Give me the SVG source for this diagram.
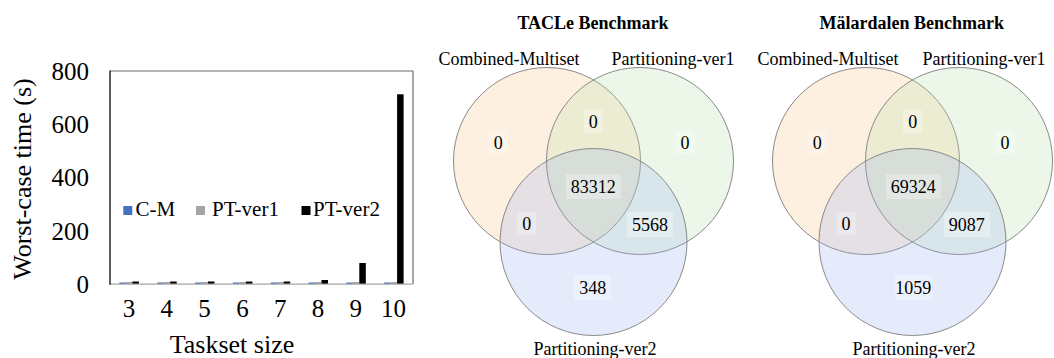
<svg xmlns="http://www.w3.org/2000/svg" width="1054" height="358" viewBox="0 0 1054 358">
  <style>
    .serif { font-family: "Liberation Serif", "Times New Roman", serif; fill: #000; }
    .tick { font-size: 25px; }
    .axis-title { font-size: 26px; }
    .legend { font-size: 21px; }
    .venn-title { font-size: 18px; font-weight: bold; text-anchor: middle; }
    .set-label { font-size: 18px; text-anchor: middle; }
    .count { font-size: 18px; text-anchor: middle; }
    .count-bg { fill: #ffffff; fill-opacity: 0.3; }
    .cm { fill: #4472C4; }
    .pt1 { fill: #A5A5A5; }
    .pt2 { fill: #000000; }
    .set { stroke: #8a8a8a; stroke-width: 1; fill-opacity: 0.25; }
    .set-a { fill: #F7C383; }
    .set-b { fill: #B7DFA7; }
    .set-c { fill: #9BAFEF; }
  </style>
  <defs>
    <!-- one three-set Venn layout, reused for both benchmarks -->
    <g id="venn-circles">
      <circle class="set set-a" cx="547" cy="161" r="93.5"/>
      <circle class="set set-b" cx="640" cy="161" r="93.5"/>
      <circle class="set set-c" cx="593.5" cy="242" r="93.5"/>
    </g>
  </defs>
  <rect width="1054" height="358" fill="#ffffff"/>

  <!-- Bar chart: worst-case time per taskset size -->
  <g id="bar-chart">
    <g id="plot-frame">
      <line x1="110" y1="71" x2="413" y2="71" stroke="#6b6b6b" stroke-width="1.2"/>
      <line x1="413" y1="71" x2="413" y2="284" stroke="#6b6b6b" stroke-width="1.2"/>
    </g>
    <g id="bars">
      <!-- size 3 -->
      <rect class="cm" x="119.4" y="282.5" width="6.5" height="1.5"/>
      <rect class="pt1" x="125.9" y="282" width="6.5" height="2"/>
      <rect class="pt2" x="132.4" y="281.5" width="6.5" height="2.5"/>
      <!-- size 4 -->
      <rect class="cm" x="157.2" y="282.5" width="6.5" height="1.5"/>
      <rect class="pt1" x="163.7" y="282" width="6.5" height="2"/>
      <rect class="pt2" x="170.2" y="281.5" width="6.5" height="2.5"/>
      <!-- size 5 -->
      <rect class="cm" x="195.0" y="282.5" width="6.5" height="1.5"/>
      <rect class="pt1" x="201.5" y="282" width="6.5" height="2"/>
      <rect class="pt2" x="208.0" y="281.5" width="6.5" height="2.5"/>
      <!-- size 6 -->
      <rect class="cm" x="232.9" y="282.5" width="6.5" height="1.5"/>
      <rect class="pt1" x="239.4" y="282" width="6.5" height="2"/>
      <rect class="pt2" x="245.9" y="281.5" width="6.5" height="2.5"/>
      <!-- size 7 -->
      <rect class="cm" x="270.7" y="282.5" width="6.5" height="1.5"/>
      <rect class="pt1" x="277.2" y="282" width="6.5" height="2"/>
      <rect class="pt2" x="283.7" y="281.5" width="6.5" height="2.5"/>
      <!-- size 8 -->
      <rect class="cm" x="308.5" y="282.5" width="6.5" height="1.5"/>
      <rect class="pt1" x="315.0" y="282" width="6.5" height="2"/>
      <rect class="pt2" x="321.5" y="280" width="6.5" height="4"/>
      <!-- size 9 -->
      <rect class="cm" x="346.3" y="282.5" width="6.5" height="1.5"/>
      <rect class="pt1" x="352.8" y="282" width="6.5" height="2"/>
      <rect class="pt2" x="359.3" y="263" width="6.5" height="21"/>
      <!-- size 10 -->
      <rect class="cm" x="384.1" y="282.5" width="6.5" height="1.5"/>
      <rect class="pt1" x="390.6" y="282" width="6.5" height="2"/>
      <rect class="pt2" x="397.1" y="94.3" width="6.5" height="189.7"/>
    </g>
    <g id="axes">
      <line x1="110" y1="284.2" x2="413" y2="284.2" stroke="#a6a6a6" stroke-width="1.2"/>
      <line x1="110" y1="70.5" x2="110" y2="284.8" stroke="#1a1a1a" stroke-width="1.4"/>
    </g>
    <g id="y-ticks" class="serif tick" text-anchor="end">
      <text x="89" y="79.5">800</text>
      <text x="89" y="133">600</text>
      <text x="89" y="186.3">400</text>
      <text x="89" y="239.6">200</text>
      <text x="89" y="292.8">0</text>
    </g>
    <g id="x-ticks" class="serif tick" text-anchor="middle">
      <text x="128.9" y="316.7">3</text>
      <text x="166.7" y="316.7">4</text>
      <text x="204.5" y="316.7">5</text>
      <text x="242.4" y="316.7">6</text>
      <text x="280.2" y="316.7">7</text>
      <text x="318" y="316.7">8</text>
      <text x="355.8" y="316.7">9</text>
      <text x="393.6" y="316.7">10</text>
    </g>
    <text id="x-title" class="serif axis-title" x="232" y="353" text-anchor="middle">Taskset size</text>
    <text id="y-title" class="serif axis-title" transform="translate(31 179) rotate(-90)" text-anchor="middle">Worst-case time (s)</text>
    <g id="legend" class="serif legend">
      <rect class="cm" x="123.3" y="206" width="9" height="9"/>
      <text x="135.5" y="215.7">C-M</text>
      <rect class="pt1" x="196" y="206" width="9" height="9"/>
      <text x="212" y="215.7">PT-ver1</text>
      <rect class="pt2" x="301.5" y="206" width="9" height="9"/>
      <text x="313" y="215.7">PT-ver2</text>
    </g>
  </g>

  <!-- Venn diagram: TACLe benchmark -->
  <g id="venn-tacle">
    <text class="serif venn-title" x="593" y="29">TACLe Benchmark</text>
    <use href="#venn-circles"/>
    <g id="tacle-labels" class="serif set-label">
      <text x="509" y="65">Combined-Multiset</text>
      <text x="673" y="65">Partitioning-ver1</text>
      <text x="595" y="355">Partitioning-ver2</text>
    </g>
    <g id="tacle-counts" class="serif count">
      <rect class="count-bg" x="489" y="131" width="19" height="23"/>
      <text x="498.3" y="149">0</text>
      <rect class="count-bg" x="584" y="110" width="19" height="23"/>
      <text x="593.3" y="128">0</text>
      <rect class="count-bg" x="675.5" y="131" width="19" height="23"/>
      <text x="685" y="149">0</text>
      <rect class="count-bg" x="566" y="174" width="55" height="25"/>
      <text x="593.3" y="193">83312</text>
      <rect class="count-bg" x="517" y="212" width="19" height="23"/>
      <text x="526.7" y="230.3">0</text>
      <rect class="count-bg" x="627" y="212" width="46" height="25"/>
      <text x="650" y="231.3">5568</text>
      <rect class="count-bg" x="574" y="275" width="37" height="25"/>
      <text x="592.7" y="293.6">348</text>
    </g>
  </g>

  <!-- Venn diagram: Mälardalen benchmark -->
  <g id="venn-malardalen">
    <text class="serif venn-title" x="911.7" y="29">Mälardalen Benchmark</text>
    <use href="#venn-circles" transform="translate(319 0)"/>
    <g id="malardalen-labels" class="serif set-label">
      <text x="828" y="65">Combined-Multiset</text>
      <text x="984" y="65">Partitioning-ver1</text>
      <text x="914" y="355">Partitioning-ver2</text>
    </g>
    <g id="malardalen-counts" class="serif count">
      <rect class="count-bg" x="808" y="131" width="19" height="23"/>
      <text x="817.3" y="149">0</text>
      <rect class="count-bg" x="903" y="110" width="19" height="23"/>
      <text x="912.7" y="128">0</text>
      <rect class="count-bg" x="995.5" y="131" width="19" height="23"/>
      <text x="1005" y="149">0</text>
      <rect class="count-bg" x="886" y="174" width="55" height="25"/>
      <text x="913.3" y="193">69324</text>
      <rect class="count-bg" x="836.5" y="212" width="19" height="23"/>
      <text x="846" y="230.3">0</text>
      <rect class="count-bg" x="944" y="212" width="46" height="25"/>
      <text x="966.7" y="231.3">9087</text>
      <rect class="count-bg" x="895" y="275" width="37" height="25"/>
      <text x="913.3" y="293.6">1059</text>
    </g>
  </g>
</svg>
